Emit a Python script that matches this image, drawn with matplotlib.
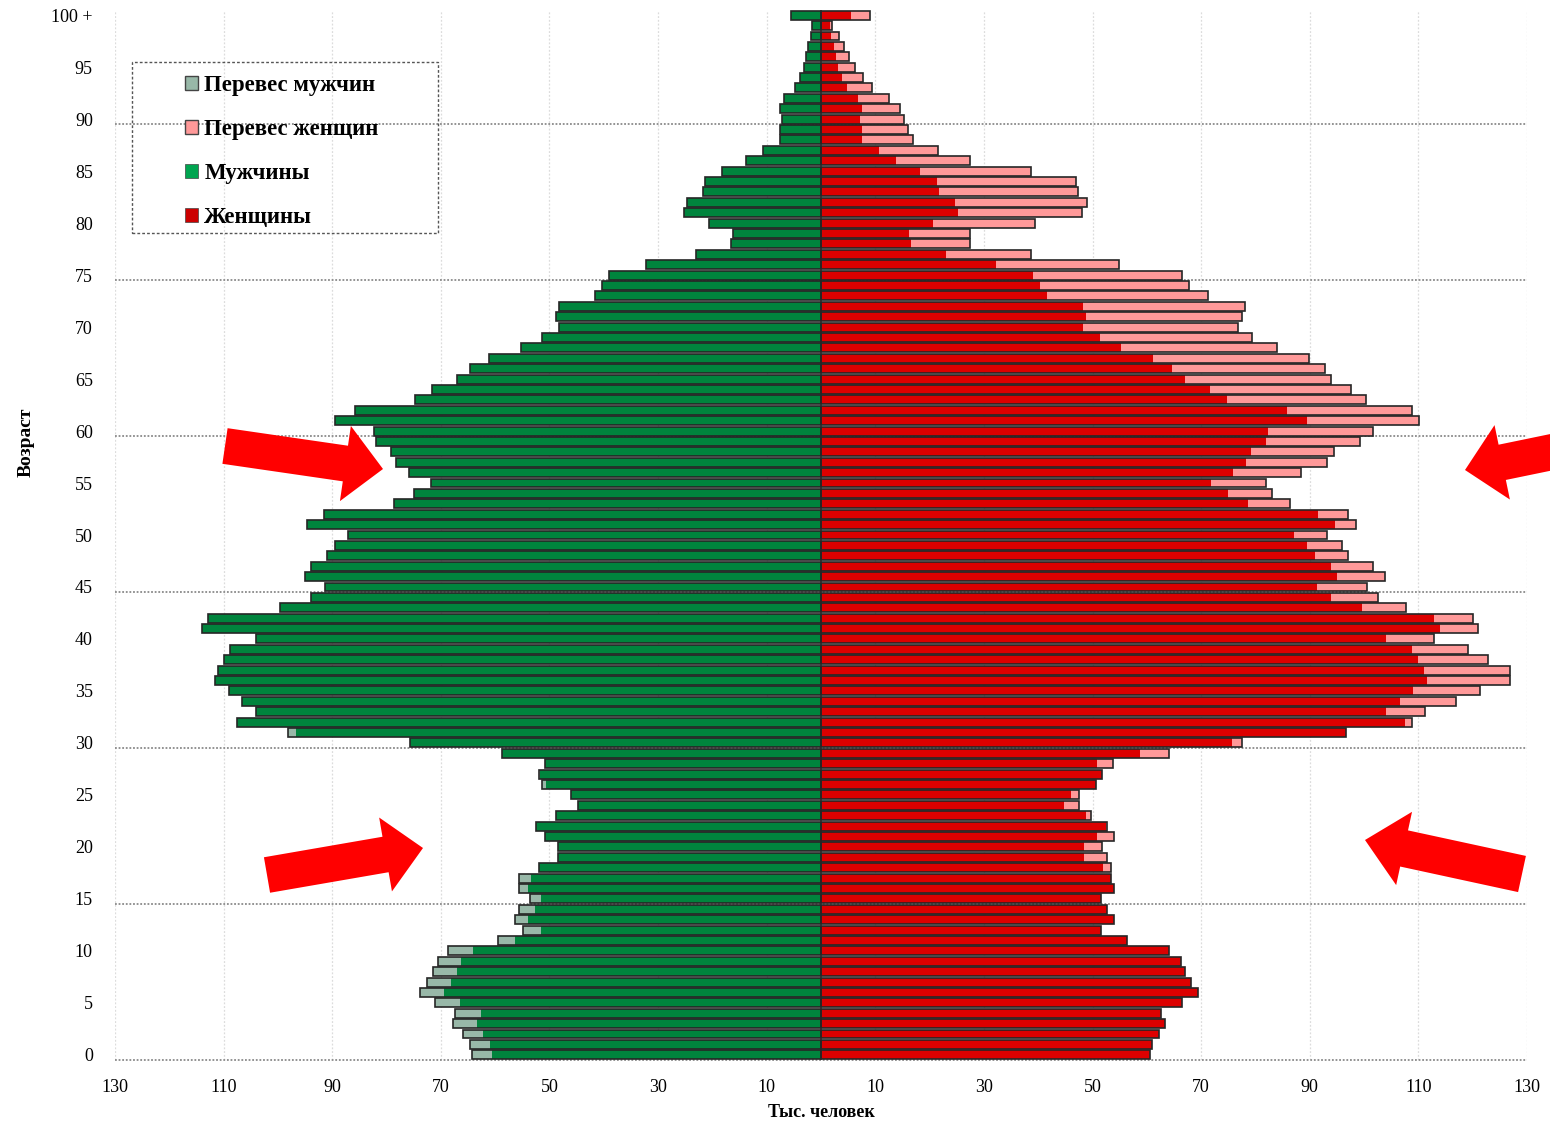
import numpy as np
import matplotlib
matplotlib.use("Agg")
import matplotlib.pyplot as plt
from matplotlib.patches import Patch, Polygon, Rectangle

plt.rcParams['font.family'] = ['Liberation Serif', 'DejaVu Serif']

# возраст 0..100+ (тыс. человек)
ages = np.arange(101)
men = np.array([
    64.3, 64.6, 65.9, 67.8, 67.4, 71.1, 73.8, 72.6, 71.4, 70.6,   # 0-9
    68.6, 59.5, 54.8, 56.3, 55.6, 53.5, 55.6, 55.6, 51.9, 48.4,   # 10-19
    48.4, 50.8, 52.4, 48.8, 44.8, 46.0, 51.3, 52.0, 50.9, 58.8,   # 20-29
    75.6, 98.1, 107.6, 104.0, 106.7, 109.1, 111.5, 111.1, 109.9, 108.8,  # 30-39
    104.0, 114.0, 112.8, 99.6, 94.0, 91.3, 95.0, 94.0, 90.9, 89.4,  # 40-49
    87.1, 94.6, 91.5, 78.7, 75.0, 71.9, 75.8, 78.3, 79.1, 81.9,   # 50-59
    82.3, 89.4, 85.8, 74.7, 71.6, 67.1, 64.7, 61.2, 55.2, 51.3,   # 60-69
    48.2, 48.8, 48.2, 41.7, 40.3, 39.0, 32.3, 23.0, 16.6, 16.2,   # 70-79
    20.7, 25.3, 24.7, 21.8, 21.4, 18.3, 13.9, 10.7, 7.5, 7.5,     # 80-89
    7.2, 7.6, 6.8, 4.8, 3.9, 3.2, 2.8, 2.4, 1.8, 1.6,             # 90-99
    5.6,                                                          # 100+
])
women = np.array([
    60.6, 61.0, 62.2, 63.4, 62.6, 66.5, 69.4, 68.1, 67.0, 66.2,
    64.1, 56.3, 51.6, 53.9, 52.6, 51.6, 53.9, 53.4, 53.4, 52.6,
    51.7, 53.9, 52.6, 49.8, 47.5, 47.5, 50.6, 51.7, 53.7, 64.1,
    77.6, 96.6, 108.9, 111.2, 116.9, 121.3, 126.8, 126.8, 122.8, 119.2,
    112.9, 120.9, 120.0, 107.8, 102.5, 100.6, 103.8, 101.7, 97.0, 95.9,
    93.1, 98.6, 97.0, 86.3, 83.1, 82.0, 88.3, 93.1, 94.5, 99.3,
    101.7, 110.1, 108.9, 100.3, 97.5, 93.9, 92.8, 89.9, 83.9, 79.3,
    76.8, 77.6, 78.0, 71.3, 67.7, 66.4, 54.9, 38.6, 27.5, 27.5,
    39.4, 48.1, 48.9, 47.3, 46.9, 38.6, 27.5, 21.6, 16.9, 16.0,
    15.3, 14.5, 12.5, 9.3, 7.8, 6.2, 5.1, 4.2, 3.4, 2.1,
    9.0,
])
x_ticks = [-130, -110, -90, -70, -50, -30, -10, 10, 30, 50, 70, 90, 110, 130]
y_ticks = list(range(0, 101, 5))
y_labels = [str(a) for a in y_ticks[:-1]] + ["100 +"]
grid_ages = [-0.5, 14.5, 29.5, 44.5, 59.5, 74.5, 89.5]

GREEN = "#00843d"
GREEN_X = "#98b8a8"
RED = "#dc0000"
PINK = "#ff9999"
EDGE = "#262626"

common = np.minimum(men, women)
ex_m = men - common
ex_w = women - common

W, H = 1550, 1121
fig = plt.figure(figsize=(W / 100, H / 100), dpi=100)
ax = fig.add_axes([115 / W, 1 - 1060 / H, 1412 / W, 1050 / H])

h = 0.86
ax.barh(ages, -common, height=h, color=GREEN, lw=0, zorder=2)
ax.barh(ages, -ex_m, left=-common, height=h, color=GREEN_X, lw=0, zorder=2)
ax.barh(ages, common, height=h, color=RED, lw=0, zorder=2)
ax.barh(ages, ex_w, left=common, height=h, color=PINK, lw=0, zorder=2)
# общий контур полос
ax.barh(ages, -men, height=h, fill=False, edgecolor=EDGE, lw=1.2, zorder=3)
ax.barh(ages, women, height=h, fill=False, edgecolor=EDGE, lw=1.2, zorder=3)

for v in x_ticks:
    ax.axvline(v, color="#dcdcdc", ls=(0, (1.5, 1.5)), lw=0.9, zorder=0)
for g in grid_ages:
    ax.axhline(g, color="#8a8a8a", ls=(0, (1, 1)), lw=1.3, zorder=1, clip_on=False)

ax.set_xlim(-130, 130)
ax.set_ylim(-0.5, 100.5)
ax.set_xticks(x_ticks)
ax.set_xticklabels([str(abs(v)) for v in x_ticks])
ax.set_yticks(y_ticks)
ax.set_yticklabels(y_labels)
ax.tick_params(length=0, labelsize=13)
ax.tick_params(axis="x", pad=14)
ax.tick_params(axis="y", pad=16)
for s in ax.spines.values():
    s.set_visible(False)

ax.set_xlabel("Тыс. человек", fontsize=13, fontweight="bold")
ax.xaxis.set_label_coords(0.5, -(1104 - 1060) / 1050)
ax.set_ylabel("Возраст", fontsize=14, fontweight="bold")
ax.yaxis.set_label_coords(-(115 - 35) / 1412, (1060 - 442) / 1050)

# легенда
handles = [
    Patch(facecolor=GREEN_X, edgecolor="#444444", lw=1),
    Patch(facecolor=PINK, edgecolor="#444444", lw=1),
    Patch(facecolor="#00a550", edgecolor="#444444", lw=0.5),
    Patch(facecolor="#cc0000", edgecolor="#444444", lw=0.5),
]
labels = ["Перевес мужчин", "Перевес женщин", "Мужчины", "Женщины"]
fig.legend(handles, labels, loc="upper left",
           bbox_to_anchor=(185 / W, 1 - 75 / H), frameon=False,
           prop={"size": 16.5, "weight": "bold"}, handlelength=0.55,
           handleheight=0.55, handletextpad=0.3, labelspacing=1.0,
           borderpad=0, borderaxespad=0)
fig.patches.append(Rectangle((132 / W, 1 - 233 / H), 306 / W, 171 / H,
                             transform=fig.transFigure, fill=False,
                             edgecolor="#555555", ls=(0, (2, 1.5)), lw=1))


# красные стрелки (в пикселях картинки, y вниз)
def arrow(tail, tip, shaft_w, head_w, head_len):
    p0 = np.array(tail, float)
    p1 = np.array(tip, float)
    d = (p1 - p0) / np.linalg.norm(p1 - p0)
    n = np.array([-d[1], d[0]])
    base = p1 - d * head_len
    pts = [p0 + n * shaft_w / 2, base + n * shaft_w / 2, base + n * head_w / 2,
           p1, base - n * head_w / 2, base - n * shaft_w / 2, p0 - n * shaft_w / 2]
    pts = [(x / W, 1 - y / H) for x, y in pts]
    fig.patches.append(Polygon(pts, closed=True, transform=fig.transFigure,
                               facecolor="#ff0000", edgecolor="none", zorder=10))


arrow((225, 446), (383, 469), 36, 76, 38)
arrow((267, 875), (423, 848), 36, 75, 38)
arrow((1625, 437), (1465, 470), 36, 76, 38)
arrow((1522, 874), (1365, 840), 37, 75, 40)

fig.savefig("out.png", dpi=100)
